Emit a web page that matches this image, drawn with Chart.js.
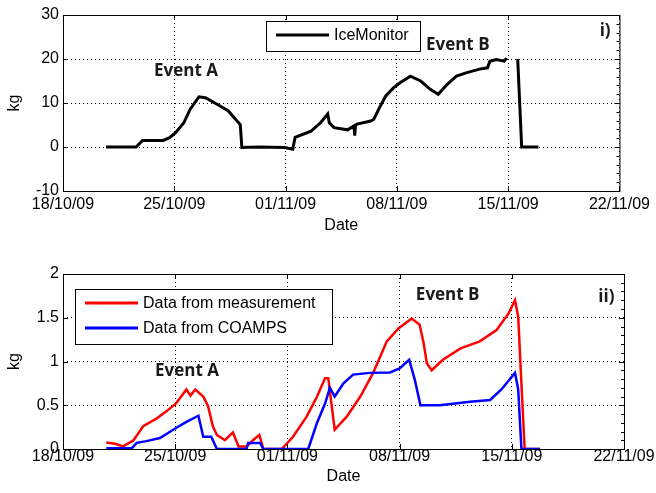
<!DOCTYPE html>
<html>
<head>
<meta charset="utf-8">
<script src="https://cdn.jsdelivr.net/npm/chart.js@4.4.1/dist/chart.umd.min.js"></script>
<style>
  html, body { margin: 0; padding: 0; background: #fff; }
  #wrap { position: relative; width: 656px; height: 493px; }
  #wrap canvas { position: absolute; left: 0; top: 0; }
</style>
</head>
<body>
<div id="wrap">
  <canvas id="chart-top" width="656" height="493"></canvas>
  <canvas id="chart-bottom" width="656" height="493"></canvas>
</div>
<script>
// x values are days since 18/10/09
const dateLabels = ["18/10/09", "25/10/09", "01/11/09", "08/11/09", "15/11/09", "22/11/09"];

const iceDays = [2.7, 4.6, 5.0, 6.3, 6.7, 7.1, 7.6, 8.0, 8.55, 8.95, 9.8, 10.4, 10.85, 11.15, 11.25, 12.3,
  13.95, 14.45, 14.6, 15.6, 16.2, 16.65, 16.75, 17.05, 17.9, 18.3, 18.35, 18.4, 18.5, 19.35, 19.55, 19.9,
  20.3, 20.8, 21.2, 21.85, 22.5, 23.1, 23.6, 24.15, 24.75, 25.4, 26.2, 26.7, 26.85, 27.25, 27.75, 27.9,
  28.2, 28.6, 28.85, 29.9];
const iceKg = [0, 0, 1.5, 1.5, 2.1, 3.3, 5.5, 8.6, 11.4, 11.2, 9.5, 8.2, 6.3, 5.1, -0.1, 0,
  -0.1, -0.5, 2.2, 3.6, 5.5, 7.5, 5.5, 4.4, 3.9, 4.8, 2.6, 4.9, 5.2, 5.9, 6.3, 8.9,
  11.6, 13.5, 14.6, 16.1, 15, 13.1, 12, 14.2, 16.1, 16.9, 17.7, 18, 19.5, 19.9, 19.5, 20.2,
  null, 20, 0, 0];

const measDays = [2.7, 3.25, 3.75, 4.4, 5.0, 5.85, 6.45, 7.05, 7.7, 7.95, 8.25, 8.75, 9.05, 9.35, 9.6,
  10.1, 10.6, 10.95, 11.45, 11.85, 12.25, 12.5, 13.65, 14.35, 15.2, 15.85, 16.35, 16.55, 16.95, 17.7,
  18.55, 19.35, 20.2, 20.95, 21.75, 22.25, 22.5, 22.7, 23.0, 23.7, 24.8, 26.0, 27.05, 27.8, 28.2,
  28.4, 28.6, 28.8, 29.75];
const measKg = [0.075, 0.06, 0.03, 0.1, 0.26, 0.35, 0.43, 0.52, 0.68, 0.61, 0.68, 0.6, 0.49, 0.26, 0.16,
  0.1, 0.19, 0.03, 0.03, 0.1, 0.16, 0, 0, 0.14, 0.37, 0.6, 0.81, 0.81, 0.22, 0.37,
  0.6, 0.87, 1.23, 1.38, 1.49, 1.42, 1.21, 0.98, 0.9, 1.02, 1.15, 1.23, 1.36, 1.55, 1.7,
  1.51, 0.75, 0, 0];

const coampsDays = [2.7, 4.3, 4.6, 5.2, 6.05, 7.05, 7.7, 8.45, 8.75, 9.25, 9.6, 11.45, 11.55, 12.3, 12.5,
  15.3, 15.85, 16.35, 16.65, 16.95, 17.5, 18.1, 19.15, 20.4, 21.0, 21.6, 21.95, 22.3, 23.5, 25.4,
  26.65, 27.35, 28.2, 28.4, 28.6, 29.75];
const coampsKg = [0.01, 0.01, 0.07, 0.09, 0.125, 0.24, 0.31, 0.38, 0.14, 0.14, 0, 0, 0.07, 0.07, 0,
  0, 0.3, 0.52, 0.7, 0.6, 0.75, 0.85, 0.87, 0.875, 0.92, 1.02, 0.79, 0.5, 0.5, 0.54,
  0.56, 0.68, 0.87, 0.68, 0, 0];

const topYTicks = [-10, 0, 10, 20, 30];
const bottomYTicks = [0, 0.5, 1, 1.5, 2];

const FONT = "'Liberation Sans', Arial, sans-serif";
const toPoints = (xs, ys) => xs.map((x, i) => ({ x: x, y: ys[i] }));

// box around the axes, inward ticks, minor ticks on the right side
const framePlugin = {
  id: "frame",
  afterDraw(chart, args, opts) {
    const { ctx, chartArea: a, scales: { x, y } } = chart;
    ctx.save();
    ctx.strokeStyle = "#000";
    ctx.lineWidth = 1;
    ctx.strokeRect(a.left + 0.5, a.top + 0.5, a.right - a.left, a.bottom - a.top);
    ctx.beginPath();
    x.ticks.forEach(t => {
      const px = Math.round(x.getPixelForValue(t.value)) + 0.5;
      ctx.moveTo(px, a.top); ctx.lineTo(px, a.top + 5);
      ctx.moveTo(px, a.bottom); ctx.lineTo(px, a.bottom - 5);
    });
    y.ticks.forEach(t => {
      const py = Math.round(y.getPixelForValue(t.value)) + 0.5;
      ctx.moveTo(a.left, py); ctx.lineTo(a.left + 5, py);
      ctx.moveTo(a.right, py); ctx.lineTo(a.right - 5, py);
    });
    for (let v = y.min; v <= y.max + 1e-9; v += opts.minorStep) {
      const py = Math.round(y.getPixelForValue(v)) + 0.5;
      ctx.moveTo(a.right, py); ctx.lineTo(a.right - 3, py);
    }
    ctx.stroke();
    ctx.restore();
  }
};

// legend drawn inside the axes, like MATLAB
const boxLegendPlugin = {
  id: "boxLegend",
  afterDraw(chart, args, opts) {
    const ctx = chart.ctx;
    ctx.save();
    ctx.fillStyle = "#fff";
    ctx.fillRect(opts.left, opts.top, opts.width, opts.height);
    ctx.strokeStyle = "#000";
    ctx.lineWidth = 1;
    ctx.strokeRect(opts.left + 0.5, opts.top + 0.5, opts.width, opts.height);
    ctx.font = "16px " + FONT;
    ctx.textBaseline = "middle";
    chart.data.datasets.forEach((ds, i) => {
      const cy = opts.top + opts.firstRow + i * opts.rowGap;
      ctx.strokeStyle = ds.borderColor;
      ctx.lineWidth = 3;
      ctx.beginPath();
      ctx.moveTo(opts.left + 10, cy);
      ctx.lineTo(opts.left + 63, cy);
      ctx.stroke();
      ctx.fillStyle = "#000";
      ctx.fillText(ds.label, opts.left + 68, cy + 1);
    });
    ctx.restore();
  }
};

const notesPlugin = {
  id: "notes",
  afterDatasetsDraw(chart, args, opts) {
    const { ctx, scales: { x, y } } = chart;
    ctx.save();
    ctx.font = "bold 17px 'Open Sans', sans-serif";
    ctx.fillStyle = "#1a1a1a";
    ctx.textAlign = "center";
    ctx.textBaseline = "middle";
    opts.items.forEach(n => ctx.fillText(n.text, x.getPixelForValue(n.x), y.getPixelForValue(n.y)));
    ctx.restore();
  }
};

function makeChart(id, datasets, cfg) {
  return new Chart(document.getElementById(id), {
    type: "line",
    data: { datasets: datasets },
    plugins: [framePlugin, boxLegendPlugin, notesPlugin],
    options: {
      responsive: false,
      animation: false,
      devicePixelRatio: 1,
      layout: { padding: cfg.padding },
      elements: { point: { radius: 0 }, line: { tension: 0 } },
      plugins: {
        legend: { display: false },
        tooltip: { enabled: false },
        frame: { minorStep: cfg.minorStep },
        boxLegend: cfg.legend,
        notes: { items: cfg.notes }
      },
      scales: {
        x: {
          type: "linear",
          min: 0,
          max: 35,
          afterFit: s => { s.height = cfg.xHeight; },
          ticks: {
            stepSize: 7,
            autoSkip: false,
            maxRotation: 0,
            padding: cfg.xTickPad,
            color: "#000",
            font: { family: FONT, size: 16, lineHeight: 1 },
            callback: v => dateLabels[Math.round(v / 7)]
          },
          grid: { color: "#000", lineWidth: 1, drawTicks: false },
          border: { display: false, dash: [1, 3] },
          title: {
            display: true,
            text: "Date",
            color: "#000",
            font: { family: FONT, size: 16, lineHeight: 1 },
            padding: { top: 0, bottom: cfg.xTitlePad }
          }
        },
        y: {
          min: cfg.yTicks[0],
          max: cfg.yTicks[cfg.yTicks.length - 1],
          afterFit: s => { s.width = 63; },
          afterBuildTicks: s => { s.ticks = cfg.yTicks.map(v => ({ value: v })); },
          ticks: {
            padding: 4,
            color: "#000",
            font: { family: FONT, size: 16, lineHeight: 1 },
            callback: v => String(v)
          },
          grid: { color: "#000", lineWidth: 1, drawTicks: false },
          border: { display: false, dash: [1, 3] },
          title: {
            display: true,
            text: "kg",
            color: "#000",
            font: { family: FONT, size: 16, lineHeight: 1 },
            padding: { top: 7, bottom: 0 }
          }
        }
      }
    }
  });
}

makeChart("chart-top", [{
  label: "IceMonitor",
  data: toPoints(iceDays, iceKg),
  borderColor: "#000",
  borderWidth: 3,
  spanGaps: false
}], {
  padding: { left: 0, right: 32, top: 15, bottom: 257 },
  xHeight: 45,
  xTickPad: 6,
  xTitlePad: 2,
  yTicks: topYTicks,
  minorStep: 2,
  legend: { left: 266, top: 21, width: 154, height: 30, firstRow: 14, rowGap: 25 },
  notes: [
    { text: "Event A", x: 7.74, y: 17.3 },
    { text: "Event B", x: 24.83, y: 23.2 },
    { text: "i)", x: 34.1, y: 26.4 }
  ]
});

makeChart("chart-bottom", [{
  label: "Data from measurement",
  data: toPoints(measDays, measKg),
  borderColor: "#ff0000",
  borderWidth: 2.5,
  order: 1
}, {
  label: "Data from COAMPS",
  data: toPoints(coampsDays, coampsKg),
  borderColor: "#0000ff",
  borderWidth: 2.5,
  order: 0
}], {
  padding: { left: 0, right: 32, top: 274, bottom: 0 },
  xHeight: 44,
  xTickPad: 0,
  xTitlePad: 8,
  yTicks: bottomYTicks,
  minorStep: 0.1,
  legend: { left: 75, top: 289, width: 257, height: 55, firstRow: 14, rowGap: 25 },
  notes: [
    { text: "Event A", x: 7.74, y: 0.893 },
    { text: "Event B", x: 24.0, y: 1.76 },
    { text: "ii)", x: 33.9, y: 1.74 }
  ]
});
</script>
</body>
</html>
